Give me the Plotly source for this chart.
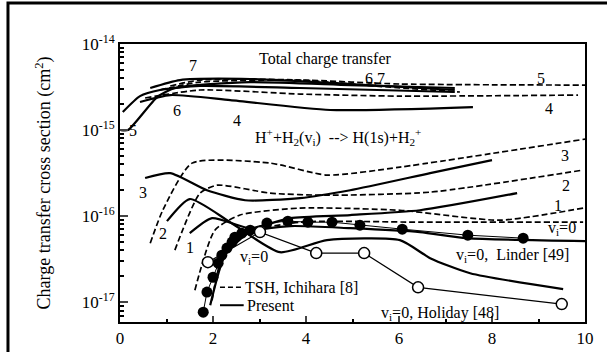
import plotly.graph_objects as go

# ---- data (energy keV/u, cross section cm^2) ----
# Present (solid) state-specific curves
s3_x = [0.54, 1.08, 1.87, 2.69, 3.87, 4.95, 6.67, 8.0]
s3_y = [2.77e-16, 3.16e-16, 2.0e-16, 1.53e-16, 1.62e-16, 2.0e-16, 3.16e-16, 4.48e-16]
s2_x = [1.01, 1.5, 2.37, 3.44, 4.45, 6.02, 6.67, 7.53, 9.53]
s2_y = [8.75e-17, 1.58e-16, 8.5e-17, 3.81e-17, 5.26e-17, 5.26e-17, 3.25e-17, 2.17e-17, 1.42e-17]
s1_x = [1.5, 1.98, 2.8, 3.66, 4.95, 6.45, 8.54]
s1_y = [6.34e-17, 9.48e-17, 7.24e-17, 9.48e-17, 1.03e-16, 1.17e-16, 1.85e-16]
s0_x = [1.94, 2.26, 2.8, 3.66, 4.95, 6.45, 7.46, 10.0]
s0_y = [9.2e-18, 3.52e-17, 6.52e-17, 7.66e-17, 7.24e-17, 6.52e-17, 5.55e-17, 5.12e-17]
# TSH Ichihara (dashed) state-specific curves
d3_x = [0.65, 0.92, 1.55, 3.23, 4.45, 6.02, 10.0]
d3_y = [4.85e-17, 1.17e-16, 4.13e-16, 4.13e-16, 3.0e-16, 3.71e-16, 7.85e-16]
d2_x = [1.18, 1.72, 2.09, 3.23, 4.45, 6.67, 9.96]
d2_y = [4.03e-17, 1.85e-16, 2.29e-16, 1.85e-16, 1.75e-16, 1.9e-16, 3.43e-16]
d1_x = [1.61, 2.04, 2.58, 3.87, 6.02, 8.17, 9.96]
d1_y = [1.38e-17, 6.87e-17, 1.03e-16, 1.24e-16, 1.17e-16, 8.98e-17, 1.24e-16]
d0_x = [1.98, 2.19, 2.69, 3.87, 6.45, 9.96]
d0_y = [1.05e-17, 3.25e-17, 6.34e-17, 8.51e-17, 8.51e-17, 8.51e-17]
# Total charge transfer, present (solid)
t5_x = [0.02, 0.17, 0.8, 1.18, 2.8, 4.95, 7.2]
t5_y = [1.0e-15, 1.0e-15, 2.42e-15, 3.08e-15, 3.61e-15, 3.33e-15, 3.08e-15]
t6_x = [0.06, 0.43, 0.86, 1.72, 3.87, 7.2]
t6_y = [1.62e-15, 2.48e-15, 2.92e-15, 3.25e-15, 3.08e-15, 2.77e-15]
t4_x = [0.43, 1.08, 2.37, 4.52, 7.59]
t4_y = [2.12e-15, 2.55e-15, 2.23e-15, 1.71e-15, 1.85e-15]
t7_x = [0.65, 1.29, 2.8, 4.95, 7.2]
t7_y = [3.08e-15, 3.81e-15, 3.92e-15, 3.43e-15, 2.92e-15]
# Total charge transfer, TSH (dashed)
u5_x = [0.86, 1.72, 3.87, 6.02, 10.0]
u5_y = [2.92e-15, 3.61e-15, 3.81e-15, 3.43e-15, 3.33e-15]
u4_x = [0.54, 1.72, 3.87, 6.02, 9.85]
u4_y = [2.36e-15, 2.92e-15, 2.62e-15, 2.48e-15, 2.55e-15]
u67_x = [1.08, 1.72, 3.87, 5.48, 7.31]
u67_y = [3.25e-15, 3.81e-15, 3.81e-15, 3.25e-15, 2.77e-15]
# Experiments
linder_x = [1.79, 1.87, 2.0, 2.11, 2.19, 2.3, 2.41, 2.47, 2.62, 2.8, 3.16, 3.61,
            4.04, 4.56, 5.16, 6.07, 7.48, 8.67]
linder_y = [7.66e-18, 1.31e-17, 1.95e-17, 2.84e-17, 3.52e-17, 4.25e-17, 4.99e-17,
            5.70e-17, 6.34e-17, 6.87e-17, 8.30e-17, 8.75e-17, 8.51e-17, 8.51e-17,
            7.85e-17, 7.06e-17, 6.01e-17, 5.55e-17]
holiday_x = [1.89, 3.01, 4.22, 5.25, 6.41, 9.5]
holiday_y = [2.92e-17, 6.52e-17, 3.72e-17, 3.72e-17, 1.49e-17, 9.5e-18]

x_ticks = [0, 2, 4, 6, 8, 10]
y_ticks = [1e-17, 1e-16, 1e-15, 1e-14]
y_ticktext = ["10<sup>-17</sup>", "10<sup>-16</sup>", "10<sup>-15</sup>", "10<sup>-14</sup>"]

FONT = "Liberation Serif"
fig = go.Figure()

solid = [(s3_x, s3_y), (s2_x, s2_y), (s1_x, s1_y), (s0_x, s0_y),
         (t5_x, t5_y), (t6_x, t6_y), (t4_x, t4_y), (t7_x, t7_y)]
dashed = [(d3_x, d3_y), (d2_x, d2_y), (d1_x, d1_y), (d0_x, d0_y),
          (u5_x, u5_y), (u4_x, u4_y), (u67_x, u67_y)]
for xs, ys in solid:
    fig.add_trace(go.Scatter(x=xs, y=ys, mode="lines",
                             line=dict(color="black", width=2.2, shape="spline", smoothing=0.6),
                             showlegend=False))
for xs, ys in dashed:
    fig.add_trace(go.Scatter(x=xs, y=ys, mode="lines",
                             line=dict(color="black", width=1.7, dash="6px,3px",
                                       shape="spline", smoothing=0.6),
                             showlegend=False))
fig.add_trace(go.Scatter(x=linder_x, y=linder_y, mode="lines+markers",
                         line=dict(color="black", width=1),
                         marker=dict(symbol="circle", size=11, color="black"),
                         showlegend=False))
fig.add_trace(go.Scatter(x=holiday_x, y=holiday_y, mode="lines+markers",
                         line=dict(color="black", width=1.2),
                         marker=dict(symbol="circle", size=11, color="white",
                                     line=dict(color="black", width=1.5)),
                         showlegend=False))

labels = [
    ("Total charge transfer", 4.41, -14.174, "center"),
    ("6,7", 5.48, -14.40, "center"),
    ("5", 9.05, -14.40, "center"),
    ("4", 9.23, -14.744, "center"),
    ("7", 1.57, -14.244, "center"),
    ("6", 1.23, -14.767, "center"),
    ("4", 2.52, -14.884, "center"),
    ("5", 0.28, -15.0, "center"),
    ("H<sup>+</sup>+H<sub>2</sub>(v<sub>i</sub>)  --> H(1s)+H<sub>2</sub><sup>+</sup>", 4.69, -15.081, "center"),
    ("3", 9.57, -15.29, "center"),
    ("2", 9.59, -15.64, "center"),
    ("1", 9.42, -15.872, "center"),
    ("v<sub>i</sub>=0", 9.5, -16.14, "center"),
    ("v<sub>i</sub>=0,  Linder [49]", 8.45, -16.453, "center"),
    ("v<sub>i</sub>=0, Holiday [48]", 6.88, -17.128, "center"),
    ("v<sub>i</sub>=0", 2.88, -16.477, "center"),
    ("3", 0.49, -15.72, "center"),
    ("2", 0.92, -16.198, "center"),
    ("1", 1.5, -16.36, "center"),
    ("TSH, Ichihara [8]", 2.64, -16.826, "left"),
    ("Present", 2.68, -17.035, "left"),
]
for txt, ax, ay, anc in labels:
    fig.add_annotation(x=ax, y=ay, text=txt, showarrow=False, xanchor=anc,
                       yanchor="middle", font=dict(family=FONT, size=16, color="black"))

# legend line samples
fig.add_shape(type="line", x0=2.15, x1=2.62, y0=10 ** -16.826, y1=10 ** -16.826,
              xref="x", yref="y", line=dict(color="black", width=1.7, dash="5px,3px"))
fig.add_shape(type="line", x0=2.15, x1=2.66, y0=10 ** -17.035, y1=10 ** -17.035,
              xref="x", yref="y", line=dict(color="black", width=2))
# outer frame of the figure
fig.add_shape(type="rect", xref="paper", yref="paper", x0=-0.2409, x1=1.2,
              y0=-0.2, y1=1.1475, line=dict(color="black", width=3))

fig.update_layout(
    width=607, height=352,
    margin=dict(l=120, r=22, t=44, b=30, autoexpand=False),
    paper_bgcolor="white", plot_bgcolor="white",
    font=dict(family=FONT, color="black"),
)
fig.update_xaxes(range=[0, 10], tickvals=x_ticks, ticks="inside", ticklen=6,
                 tickwidth=1.5, showline=True, linewidth=2, linecolor="black",
                 mirror=True, showgrid=False, zeroline=False,
                 tickfont=dict(family=FONT, size=17),
                 minor=dict(tickvals=[1, 3, 5, 7, 9], ticks="inside", ticklen=3,
                            tickcolor="black"))
minor_y = [m * 10.0 ** e for e in (-18, -17, -16, -15) for m in range(2, 10)]
fig.update_yaxes(type="log", range=[-17.23, -14], tickvals=y_ticks, ticktext=y_ticktext,
                 ticks="inside", ticklen=8, tickwidth=1.5, showline=True, linewidth=2,
                 linecolor="black", mirror=True, showgrid=False, zeroline=False,
                 tickfont=dict(family=FONT, size=17),
                 minor=dict(tickvals=minor_y, ticks="inside", ticklen=4, tickcolor="black"),
                 title=dict(text="Charge transfer cross section (cm<sup>2</sup>)",
                            font=dict(family=FONT, size=18), standoff=26))

fig.write_html("out.html")
